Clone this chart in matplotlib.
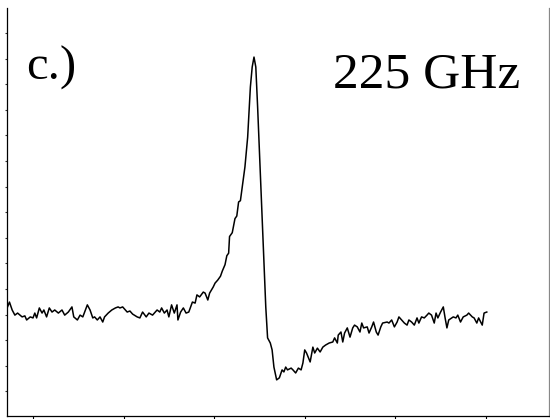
import matplotlib
matplotlib.use("Agg")
import matplotlib.pyplot as plt

# field sweep (arb. units) and ESR signal (arb. units)
field = [0.71, 0.74, 0.77, 0.80, 0.83, 0.88, 0.91, 0.93, 0.97, 1.00,
         1.02, 1.04, 1.07, 1.10, 1.12, 1.15, 1.18, 1.21, 1.24, 1.28,
         1.32, 1.35, 1.39, 1.43, 1.45, 1.49, 1.52, 1.55, 1.57, 1.60,
         1.63, 1.66, 1.68, 1.71, 1.74, 1.77, 1.79, 1.83, 1.87, 1.91,
         1.94, 1.96, 1.99, 2.04, 2.07, 2.10, 2.15, 2.18, 2.21, 2.25,
         2.28, 2.32, 2.37, 2.40, 2.42, 2.45, 2.48, 2.50, 2.53, 2.56,
         2.59, 2.60, 2.63, 2.66, 2.69, 2.72, 2.76, 2.79, 2.81, 2.84,
         2.88, 2.90, 2.93, 2.95, 2.99, 3.01, 3.04, 3.07, 3.09, 3.12,
         3.14, 3.16, 3.17, 3.20, 3.23, 3.25, 3.27, 3.29, 3.31, 3.34,
         3.37, 3.40, 3.42, 3.44, 3.46, 3.48,
         3.51, 3.54, 3.57, 3.59, 3.62, 3.64, 3.66, 3.69, 3.72, 3.75,
         3.77, 3.79, 3.81, 3.85, 3.87, 3.90, 3.93, 3.96, 3.98, 4.00,
         4.02, 4.06, 4.09, 4.11, 4.14, 4.17, 4.20, 4.23, 4.27, 4.31,
         4.33, 4.36, 4.37, 4.40, 4.42, 4.44, 4.47, 4.50, 4.53, 4.55,
         4.58, 4.61, 4.63, 4.65, 4.69, 4.71, 4.74, 4.76, 4.79, 4.81,
         4.84, 4.86, 4.91, 4.93, 4.96, 4.99, 5.02, 5.04, 5.07, 5.10,
         5.13, 5.15, 5.18, 5.21, 5.24, 5.26, 5.29, 5.32, 5.35, 5.37,
         5.40, 5.43, 5.45, 5.47, 5.50, 5.53, 5.55, 5.57, 5.59, 5.64,
         5.67, 5.69, 5.72, 5.75, 5.79, 5.81, 5.85, 5.87, 5.90, 5.92,
         5.96, 5.98, 6.01]
signal = [0.22, 0.49, 0.18, -0.02, 0.06, -0.09, -0.05, -0.21, -0.09, -0.13,
          0.06, -0.13, 0.26, 0.06, 0.18, -0.09, 0.26, 0.10, 0.18, 0.06,
          0.18, -0.02, 0.10, 0.30, -0.09, -0.21, -0.02, -0.09, 0.10, 0.38,
          0.18, -0.13, -0.09, -0.21, -0.09, -0.29, -0.09, 0.06, 0.18, 0.26,
          0.30, 0.26, 0.30, 0.10, 0.14, 0.02, -0.09, -0.13, 0.10, -0.09,
          0.06, -0.02, 0.18, 0.10, 0.26, 0.06, 0.18, -0.09, 0.38, 0.06,
          0.38, -0.21, 0.10, 0.26, 0.06, 0.10, 0.49, 0.45, 0.77, 0.69,
          0.88, 0.84, 0.57, 0.84, 1.08, 1.23, 1.35, 1.50, 1.70, 1.95,
          2.30, 2.40, 3.05, 3.20, 3.75, 3.85, 4.40, 4.45, 4.98, 5.77,
          6.93, 8.89, 9.67, 10.06, 9.67, 8.11,
          5.53, 2.91, 0.30, -0.91, -1.11, -1.38, -2.05, -2.55, -2.47, -2.16,
          -2.24, -2.05, -2.16, -2.09, -2.16, -2.28, -2.09, -2.16, -1.89, -1.38,
          -1.50, -1.85, -1.27, -1.50, -1.31, -1.46, -1.27, -1.19, -1.11, -1.07,
          -0.91, -1.11, -0.80, -0.68, -1.07, -0.72, -0.52, -0.88, -0.52, -0.41,
          -0.48, -0.68, -0.33, -0.52, -0.48, -0.72, -0.48, -0.29, -0.68, -0.80,
          -0.48, -0.33, -0.29, -0.33, -0.21, -0.48, -0.29, -0.09, -0.21, -0.33,
          -0.41, -0.21, -0.29, -0.41, -0.13, -0.33, -0.09, -0.13, -0.02, 0.06,
          -0.02, -0.33, 0.06, -0.13, 0.10, 0.30, -0.13, -0.52, -0.21, -0.09,
          -0.13, -0.02, -0.29, -0.09, -0.02, 0.06, -0.09, -0.13, -0.33, -0.13,
          -0.41, 0.06, 0.10]

xticks = [1, 2, 3, 4, 5, 6]
yticks = list(range(-3, 12))
panel_label = "c.)"
freq_label = "225 GHz"

fig = plt.figure(figsize=(5.5, 4.19), dpi=100)
ax = fig.add_axes([7 / 550, 3 / 419, 542 / 550, 408 / 419])
ax.plot(field, signal, color="black", linewidth=1.1)

ax.set_xlim(0.713, 6.697)
ax.set_ylim(-3.961, 11.977)
ax.set_xticks(xticks)
ax.set_yticks(yticks)
ax.set_xticklabels([])
ax.set_yticklabels([])
ax.tick_params(axis="x", direction="out", length=2.5, width=0.8, color="black")
ax.tick_params(axis="y", direction="out", length=1.6, width=0.8, color="#333333",
               right=True, labelright=False)
ax.spines["top"].set_visible(False)
ax.spines["left"].set_linewidth(0.9)
ax.spines["bottom"].set_linewidth(0.9)
ax.spines["right"].set_color("#888888")
ax.spines["right"].set_linewidth(0.9)
ax.set_facecolor("white")

fig.text(26 / 550, 1 - 80 / 419, panel_label, fontfamily="Liberation Serif",
         fontsize=35, va="baseline", ha="left")
fig.text(333 / 550, 1 - 88 / 419, freq_label, fontfamily="Liberation Serif",
         fontsize=37, va="baseline", ha="left")

fig.savefig("out.png", dpi=100)
